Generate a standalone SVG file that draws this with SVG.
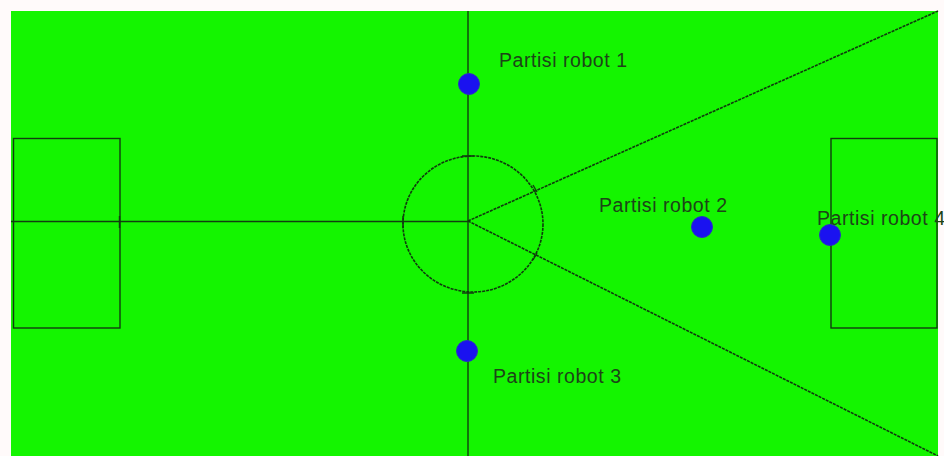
<svg xmlns="http://www.w3.org/2000/svg" width="944" height="456" viewBox="0 0 944 456">
<style>
.ln{stroke:#123d10;stroke-width:1.4;fill:none}
.dl{stroke:#0f3a0d;stroke-width:1.6;fill:none;stroke-dasharray:3 1}
.dot{fill:#1a12f0;stroke:#2a30c0;stroke-width:1}
.lbl{font-family:"Liberation Sans",Arial,sans-serif;font-size:19.5px;letter-spacing:0.55px;fill:#1d4418}
</style>
<rect x="0" y="0" width="944" height="456" fill="#fffafa"/>
<rect x="11" y="11" width="927" height="445" fill="#14f500"/>
<g id="field">
<line class="ln" x1="468" y1="11" x2="468" y2="456"/>
<line class="ln" x1="11" y1="221.5" x2="468" y2="221.5"/>
<rect class="ln" x="13.5" y="138.5" width="106.5" height="189.5"/>
<rect class="ln" x="831" y="138.5" width="106" height="189.5"/>
<ellipse class="dl" cx="473" cy="224" rx="70" ry="68"/>
<path class="ln" d="M462 156H474M462 293H474M403 216V228M119.5 216V228M533 185l4 7M533 260l4 -7"/>
</g>
<g id="connectors">
<line class="dl" x1="468" y1="221" x2="938" y2="11"/>
<line class="dl" x1="468" y1="221" x2="938" y2="456"/>
</g>
<g id="robot1"><circle class="dot" cx="469" cy="84" r="10.5"/><text class="lbl" x="499" y="67">Partisi robot 1</text></g>
<g id="robot2"><circle class="dot" cx="702" cy="227" r="10.5"/><text class="lbl" x="599" y="212">Partisi robot 2</text></g>
<g id="robot3"><circle class="dot" cx="467" cy="351" r="10.5"/><text class="lbl" x="493" y="383">Partisi robot 3</text></g>
<g id="robot4"><circle class="dot" cx="830" cy="235" r="10.5"/><text class="lbl" x="817" y="225">Partisi robot 4</text></g>
</svg>
